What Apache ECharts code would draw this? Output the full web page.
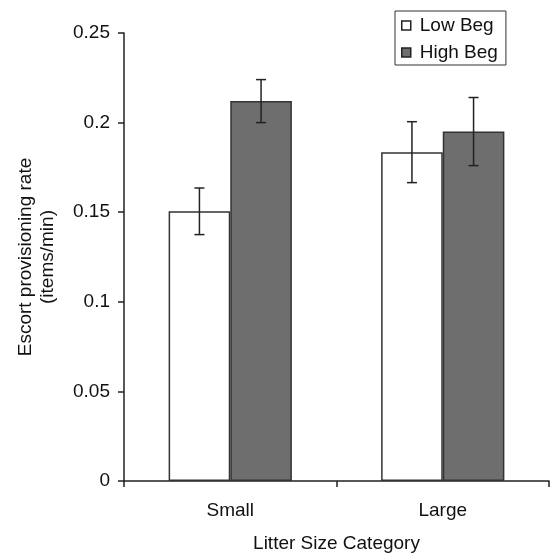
<!DOCTYPE html>
<html>
<head>
<meta charset="utf-8">
<script src="https://cdn.jsdelivr.net/npm/echarts@6/dist/echarts.min.js"></script>
<style>
  html, body { margin: 0; padding: 0; background: #fff; }
  #chart { width: 550px; height: 554px; }
</style>
</head>
<body>
<div id="chart"></div>
<script>
const categories = ["Small", "Large"];
const lowBeg = [0.1505, 0.1835];
const lowBegErr = [0.013, 0.017];
const highBeg = [0.212, 0.195];
const highBegErr = [0.012, 0.019];
const yTicks = [0, 0.05, 0.1, 0.15, 0.2, 0.25];

const font = '"Liberation Sans", Arial, sans-serif';
const lineColor = "#222";
const barShare = 0.58; // share of category used by the two bars

// error bar rows: [categoryIndex, low, high]
const errRows = (vals, errs) => vals.map((v, i) => [i, v - errs[i], v + errs[i]]);

const makeErrorSeries = (rows, side) => ({
  type: "custom",
  silent: true,
  z: 10,
  data: rows,
  encode: { x: 0, y: [1, 2] },
  renderItem: (params, api) => {
    const band = api.size([1, 0])[0];
    const off = side * band * barShare / 4;
    const top = api.coord([api.value(0), api.value(2)]);
    const bot = api.coord([api.value(0), api.value(1)]);
    const x = top[0] + off;
    const cap = 5;
    const style = { stroke: lineColor, lineWidth: 1.5 };
    return {
      type: "group",
      children: [
        { type: "line", shape: { x1: x, y1: top[1], x2: x, y2: bot[1] }, style },
        { type: "line", shape: { x1: x - cap, y1: top[1], x2: x + cap, y2: top[1] }, style },
        { type: "line", shape: { x1: x - cap, y1: bot[1], x2: x + cap, y2: bot[1] }, style },
      ],
    };
  },
});

const chart = echarts.init(document.getElementById("chart"));

chart.setOption({
  backgroundColor: "#fff",
  animation: false,
  textStyle: { fontFamily: font, color: "#111" },
  grid: { left: 124, right: 1, top: 33, bottom: 73, outerBoundsMode: "none" },
  legend: {
    orient: "vertical",
    left: 395,
    top: 11,
    padding: [5, 8, 3, 6],
    itemGap: 8,
    itemWidth: 9,
    itemHeight: 9,
    borderColor: "#333",
    borderWidth: 1,
    textStyle: { fontFamily: font, fontSize: 19, color: "#111", padding: [0, 0, 0, 4] },
    data: [
      { name: "Low Beg", icon: "rect", itemStyle: { color: "#fff", borderColor: "#222", borderWidth: 1.5 } },
      { name: "High Beg", icon: "rect", itemStyle: { color: "#6e6e6e", borderColor: "#222", borderWidth: 1.5 } },
    ],
  },
  xAxis: {
    type: "category",
    data: categories,
    name: "Litter Size Category",
    nameLocation: "middle",
    nameGap: 53,
    nameTextStyle: { fontFamily: font, fontSize: 19, color: "#111" },
    axisLine: { lineStyle: { color: lineColor, width: 1.5 } },
    axisTick: { show: true, length: 6, inside: false, lineStyle: { color: lineColor, width: 1.5 } },
    axisLabel: { fontFamily: font, fontSize: 19, color: "#111", margin: 20 },
  },
  yAxis: {
    type: "value",
    min: yTicks[0],
    max: yTicks[yTicks.length - 1],
    interval: 0.05,
    name: "Escort provisioning rate\n(items/min)",
    nameLocation: "middle",
    nameGap: 65,
    nameTextStyle: { fontFamily: font, fontSize: 19, color: "#111", lineHeight: 22 },
    axisLine: { show: true, lineStyle: { color: lineColor, width: 1.5 } },
    axisTick: { show: true, length: 6, lineStyle: { color: lineColor, width: 1.5 } },
    axisLabel: { fontFamily: font, fontSize: 19, color: "#111", margin: 14 },
    splitLine: { show: false },
  },
  series: [
    {
      name: "Low Beg",
      type: "bar",
      data: lowBeg,
      barGap: "0%",
      barCategoryGap: "42%",
      itemStyle: { color: "#fff", borderColor: "#333", borderWidth: 1.5 },
    },
    {
      name: "High Beg",
      type: "bar",
      data: highBeg,
      barGap: "0%",
      barCategoryGap: "42%",
      itemStyle: { color: "#6e6e6e", borderColor: "#333", borderWidth: 1.5 },
    },
    makeErrorSeries(errRows(lowBeg, lowBegErr), -1),
    makeErrorSeries(errRows(highBeg, highBegErr), 1),
  ],
});
</script>
</body>
</html>
